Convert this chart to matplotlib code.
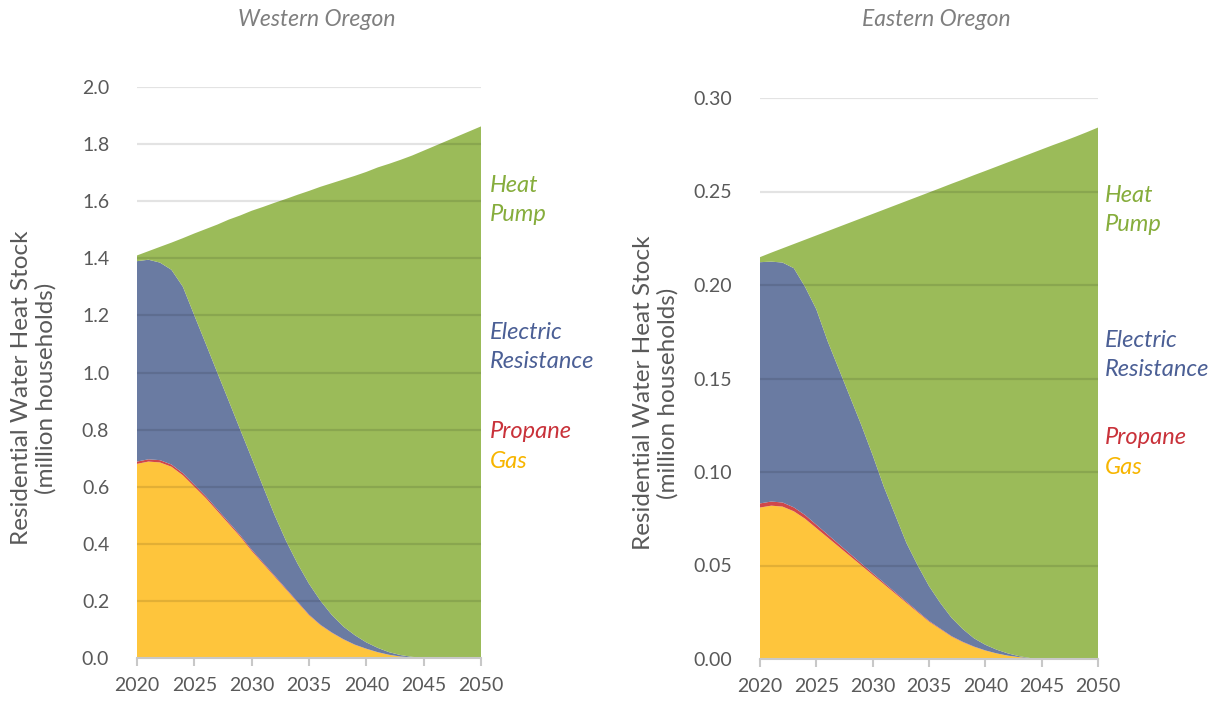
import matplotlib
matplotlib.use("Agg")
import matplotlib.pyplot as plt

years = list(range(2020, 2051))

# Western Oregon (million households)
w_gas = [0.680, 0.688, 0.685, 0.670, 0.640, 0.600, 0.560, 0.515, 0.470, 0.425, 0.375,
         0.330, 0.285, 0.240, 0.195, 0.150, 0.115, 0.088, 0.065, 0.046, 0.032,
         0.020, 0.011, 0.005, 0.002, 0.0, 0.0, 0.0, 0.0, 0.0, 0.0]
w_propane = [0.008, 0.008, 0.008, 0.0078, 0.0075, 0.007, 0.0065, 0.006, 0.0055, 0.005, 0.0045,
             0.004, 0.0035, 0.003, 0.0025, 0.002, 0.0015, 0.0012, 0.001, 0.0008, 0.0006,
             0.0004, 0.0002, 0.0001, 0.0, 0.0, 0.0, 0.0, 0.0, 0.0, 0.0]
w_electric = [0.702, 0.699, 0.692, 0.682, 0.653, 0.593, 0.534, 0.479, 0.425, 0.370, 0.321,
              0.266, 0.212, 0.167, 0.133, 0.108, 0.084, 0.061, 0.044, 0.033, 0.022,
              0.015, 0.009, 0.005, 0.002, 0.001, 0.0, 0.0, 0.0, 0.0, 0.0]
w_heatpump = [0.020, 0.030, 0.055, 0.095, 0.170, 0.287, 0.402, 0.518, 0.635, 0.750, 0.866,
              0.980, 1.094, 1.198, 1.292, 1.376, 1.450, 1.513, 1.566, 1.609, 1.648,
              1.683, 1.711, 1.735, 1.756, 1.776, 1.794, 1.811, 1.828, 1.845, 1.862]

# Eastern Oregon (million households)
e_gas = [0.081, 0.082, 0.0815, 0.079, 0.075, 0.070, 0.065, 0.060, 0.055, 0.050, 0.045,
         0.040, 0.035, 0.030, 0.025, 0.020, 0.016, 0.012, 0.009, 0.0065, 0.0045,
         0.003, 0.0018, 0.001, 0.0004, 0.0, 0.0, 0.0, 0.0, 0.0, 0.0]
e_propane = [0.0022, 0.0022, 0.0022, 0.0021, 0.002, 0.0018, 0.0016, 0.0014, 0.0012, 0.001, 0.0009,
             0.0008, 0.0007, 0.0006, 0.0005, 0.0004, 0.0003, 0.00025, 0.0002, 0.00015, 0.0001,
             0.0, 0.0, 0.0, 0.0, 0.0, 0.0, 0.0, 0.0, 0.0, 0.0]
e_electric = [0.129, 0.1283, 0.1283, 0.1279, 0.122, 0.1152, 0.1034, 0.0936, 0.0838, 0.074, 0.0631,
              0.0512, 0.0413, 0.0314, 0.0245, 0.0186, 0.0137, 0.0098, 0.0068, 0.0044, 0.0030,
              0.002, 0.0012, 0.0005, 0.0001, 0.0, 0.0, 0.0, 0.0, 0.0, 0.0]
e_heatpump = [0.0027, 0.0048, 0.0076, 0.0129, 0.0252, 0.0395, 0.0588, 0.0761, 0.0934, 0.1107, 0.1290,
              0.1483, 0.1656, 0.1829, 0.1972, 0.2105, 0.2218, 0.2321, 0.2404, 0.2477, 0.2534,
              0.2583, 0.2626, 0.2664, 0.2697, 0.2725, 0.2748, 0.2770, 0.2793, 0.2817, 0.2842]

titles = ["Western Oregon", "Eastern Oregon"]
series_names = ["Gas", "Propane", "Electric\nResistance", "Heat\nPump"]
x_ticks = [2020, 2025, 2030, 2035, 2040, 2045, 2050]
w_yticks = [0.0, 0.2, 0.4, 0.6, 0.8, 1.0, 1.2, 1.4, 1.6, 1.8, 2.0]
e_yticks = [0.00, 0.05, 0.10, 0.15, 0.20, 0.25, 0.30]
ylabel = "Residential Water Heat Stock\n(million households)"

C_GAS = "#fec53c"
C_PROP = "#d0474a"
C_ELEC = "#6a7ba2"
C_HP = "#9bbb59"
T_GAS = "#f7b500"
T_PROP = "#c9323a"
T_ELEC = "#4b5f95"
T_HP = "#86ad3c"
GRAY = "#595959"

plt.rcParams['font.family'] = ['Lato', 'DejaVu Sans']

fig = plt.figure(figsize=(12.17, 7.04), dpi=100)
W, H = 1217, 704

def fx(px):
    return px / W

def fy(py):
    return 1 - py / H

ax1 = fig.add_axes([fx(137), fy(658), fx(481) - fx(137), fy(87) - fy(658)])
ax2 = fig.add_axes([fx(760), fy(659), fx(1098) - fx(760), fy(98) - fy(659)])

panels = [
    (ax1, [w_gas, w_propane, w_electric, w_heatpump], w_yticks, "{:.1f}", 2.0),
    (ax2, [e_gas, e_propane, e_electric, e_heatpump], e_yticks, "{:.2f}", 0.30),
]

for ax, data, yt, fmt, ymax in panels:
    ax.stackplot(years, *data, colors=[C_GAS, C_PROP, C_ELEC, C_HP],
                 linewidth=0, zorder=1)
    ax.set_xlim(2020, 2050)
    ax.set_ylim(0, ymax)
    for v in yt[1:]:
        ax.axhline(v, color="#000000", alpha=0.11, lw=1.6, zorder=2)
    ax.set_yticks(yt)
    ax.set_yticklabels([fmt.format(v) for v in yt])
    ax.set_xticks(x_ticks)
    ax.set_xticklabels([str(x) for x in x_ticks])
    for s in ["left", "right", "top"]:
        ax.spines[s].set_visible(False)
    ax.spines["bottom"].set_color("#c8c8c8")
    ax.spines["bottom"].set_linewidth(1.5)
    ax.spines["bottom"].set_zorder(3)
    ax.tick_params(axis="y", length=0, pad=20, labelsize=14, labelcolor=GRAY)
    ax.tick_params(axis="x", length=6, width=1.5, color="#c8c8c8", pad=8,
                   labelsize=14, labelcolor=GRAY)
    ax.set_facecolor("white")

# titles
fig.text(fx(317), fy(19), titles[0], ha="center", va="center", fontsize=16.5,
         style="italic", color="#7f7f7f")
fig.text(fx(936), fy(19), titles[1], ha="center", va="center", fontsize=16.5,
         style="italic", color="#7f7f7f")

# y labels
fig.text(fx(34), fy(388), ylabel, ha="center", va="center", rotation=90,
         fontsize=17.5, color=GRAY, linespacing=1.15)
fig.text(fx(656), fy(393), ylabel, ha="center", va="center", rotation=90,
         fontsize=17.5, color=GRAY, linespacing=1.15)

# series labels
def labels(x0, y_hp, y_el, y_pr, y_gas):
    kw = dict(ha="left", va="center", fontsize=17, style="italic", linespacing=1.5)
    fig.text(fx(x0), fy(y_hp), series_names[3], color=T_HP, **kw)
    fig.text(fx(x0), fy(y_el), series_names[2], color=T_ELEC, **kw)
    fig.text(fx(x0), fy(y_pr), series_names[1], color=T_PROP, **kw)
    fig.text(fx(x0), fy(y_gas), series_names[0], color=T_GAS, **kw)

labels(490, 200, 347, 431, 462)
labels(1105, 210, 355, 437, 467)

fig.savefig("out.png", dpi=100)
